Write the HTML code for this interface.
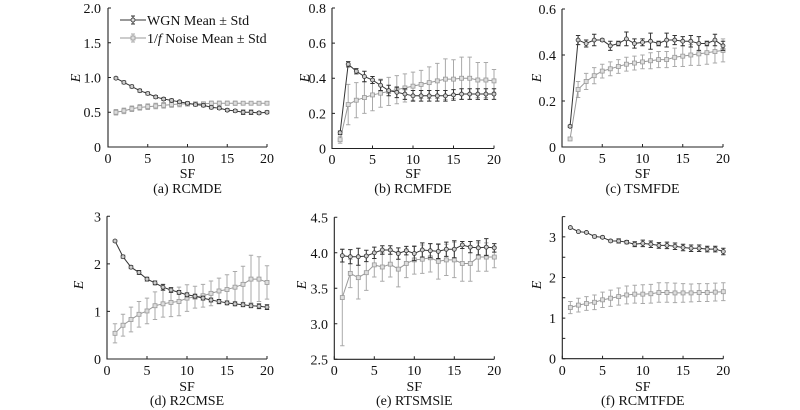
<!DOCTYPE html>
<html><head><meta charset="utf-8">
<style>
html,body{margin:0;padding:0;background:#fff;}
svg{display:block;}
svg text{font-family:"Liberation Serif","DejaVu Serif",serif;font-size:14px;fill:#111;}
</style></head>
<body>
<svg id="s" width="800" height="410" viewBox="0 0 800 410" xmlns="http://www.w3.org/2000/svg" font-family="Liberation Serif, serif">
<rect width="800" height="410" fill="#fff"/>
<g id="plots"></g>

<g text-anchor="end" font-family="Liberation Serif, serif">
<text x="101" y="152">0</text><text x="101" y="117">0.5</text><text x="101" y="82.5">1.0</text><text x="101" y="48">1.5</text><text x="101" y="13">2.0</text>
<text x="326" y="153.5">0</text><text x="326" y="118.3">0.2</text><text x="326" y="83.1">0.4</text><text x="326" y="48">0.6</text><text x="326" y="13">0.8</text>
<text x="556" y="152">0</text><text x="556" y="106">0.2</text><text x="556" y="60">0.4</text><text x="556" y="14">0.6</text>
<text x="101" y="364">0</text><text x="101" y="316.4">1</text><text x="101" y="268.9">2</text><text x="101" y="221.3">3</text>
<text x="328" y="364.3">2.5</text><text x="328" y="328.8">3.0</text><text x="328" y="293.3">3.5</text><text x="328" y="257.8">4.0</text><text x="328" y="222.3">4.5</text>
<text x="556" y="363.7">0</text><text x="556" y="323.1">1</text><text x="556" y="282.5">2</text><text x="556" y="241.9">3</text>
</g>
<g text-anchor="middle" font-family="Liberation Serif, serif">
<text x="108" y="163">0</text><text x="147.75" y="163">5</text><text x="187.5" y="163">10</text><text x="227.25" y="163">15</text><text x="267" y="163">20</text>
<text x="332" y="164">0</text><text x="372.5" y="164">5</text><text x="413" y="164">10</text><text x="453.5" y="164">15</text><text x="494" y="164">20</text>
<text x="562" y="163">0</text><text x="602.25" y="163">5</text><text x="642.5" y="163">10</text><text x="682.75" y="163">15</text><text x="723" y="163">20</text>
<text x="107" y="375">0</text><text x="147" y="375">5</text><text x="187" y="375">10</text><text x="227" y="375">15</text><text x="267" y="375">20</text>
<text x="334.3" y="375">0</text><text x="374.3" y="375">5</text><text x="414.3" y="375">10</text><text x="454.3" y="375">15</text><text x="494.3" y="375">20</text>
<text x="562.3" y="375">0</text><text x="602.5" y="375">5</text><text x="642.8" y="375">10</text><text x="683" y="375">15</text><text x="723.3" y="375">20</text>

<text x="187.5" y="178">SF</text><text x="187.5" y="193">(a) RCMDE</text>
<text x="413" y="178">SF</text><text x="413" y="193">(b) RCMFDE</text>
<text x="642.5" y="178">SF</text><text x="642.5" y="193">(c) TSMFDE</text>
<text x="187" y="391">SF</text><text x="187" y="405">(d) R2CMSE</text>
<text x="414.3" y="391">SF</text><text x="414.3" y="405">(e) RTSMSlE</text>
<text x="642.8" y="391">SF</text><text x="642.8" y="405">(f) RCMTFDE</text>

<text font-style="italic" transform="translate(80,78) rotate(-90)">E</text>
<text font-style="italic" transform="translate(309,78) rotate(-90)">E</text>
<text font-style="italic" transform="translate(541,78) rotate(-90)">E</text>
<text font-style="italic" transform="translate(83,285) rotate(-90)">E</text>
<text font-style="italic" transform="translate(306,285) rotate(-90)">E</text>
<text font-style="italic" transform="translate(541,285) rotate(-90)">E</text>
</g>

<g font-family="Liberation Serif, serif">
<line x1="120" y1="20" x2="146" y2="20" stroke="#333" stroke-width="1"/>
<line x1="133" y1="16" x2="133" y2="24" stroke="#333" stroke-width="1"/>
<line x1="131" y1="16" x2="135" y2="16" stroke="#333"/><line x1="131" y1="24" x2="135" y2="24" stroke="#333"/>
<circle cx="133" cy="20" r="2" fill="#ddd" stroke="#333" stroke-width="0.8"/>
<text x="147" y="25">WGN Mean ± Std</text>
<line x1="120" y1="38" x2="146" y2="38" stroke="#999" stroke-width="1"/>
<line x1="133" y1="34" x2="133" y2="42" stroke="#aaa"/>
<line x1="131" y1="34" x2="135" y2="34" stroke="#aaa"/><line x1="131" y1="42" x2="135" y2="42" stroke="#aaa"/>
<rect x="131" y="36" width="4" height="4" fill="#ddd" stroke="#999" stroke-width="0.8"/>
<text x="147" y="43">1/<tspan font-style="italic">f</tspan> Noise Mean ± Std</text>
</g>
</svg>
<script>
(function(){
var NS="http://www.w3.org/2000/svg";
var g=document.getElementById("plots");
function el(t,a){var e=document.createElementNS(NS,t);for(var k in a)e.setAttribute(k,a[k]);g.appendChild(e);return e;}
var P=[
{x0:108,x1:267,yb:147,yt:8,mn:0,mx:2,tk:[0,0.5,1,1.5,2],
 w:[0.99,0.93,0.87,0.81,0.77,0.72,0.69,0.67,0.65,0.63,0.61,0.60,0.57,0.56,0.53,0.52,0.50,0.50,0.49,0.50],
 we:[0.015,0.02,0.02,0.02,0.02,0.02,0.02,0.02,0.02,0.02,0.02,0.02,0.02,0.02,0.02,0.02,0.03,0.03,0.02,0.02],
 n:[0.50,0.52,0.55,0.57,0.58,0.59,0.60,0.61,0.62,0.62,0.62,0.62,0.63,0.63,0.63,0.63,0.63,0.63,0.63,0.63],
 ne:[0.04,0.04,0.04,0.04,0.04,0.04,0.04,0.04,0.04,0.03,0.03,0.03,0.03,0.03,0.03,0.03,0.02,0.02,0.02,0.02]},
{x0:332,x1:494,yb:148.5,yt:8,mn:0,mx:0.8,tk:[0,0.2,0.4,0.6,0.8],
 w:[0.09,0.48,0.44,0.41,0.39,0.36,0.33,0.32,0.31,0.30,0.30,0.30,0.30,0.30,0.305,0.31,0.31,0.31,0.31,0.31],
 we:[0.01,0.015,0.015,0.03,0.02,0.03,0.03,0.03,0.03,0.03,0.03,0.03,0.03,0.03,0.03,0.03,0.03,0.03,0.03,0.03],
 n:[0.05,0.25,0.275,0.29,0.305,0.315,0.325,0.335,0.345,0.355,0.365,0.375,0.385,0.395,0.395,0.40,0.40,0.39,0.39,0.385],
 ne:[0.02,0.115,0.1,0.09,0.09,0.08,0.08,0.08,0.08,0.08,0.08,0.09,0.1,0.115,0.11,0.12,0.12,0.1,0.1,0.065]},
{x0:562,x1:723,yb:147,yt:9,mn:0,mx:0.6,tk:[0,0.2,0.4,0.6],
 w:[0.09,0.465,0.45,0.465,0.465,0.44,0.45,0.47,0.45,0.455,0.46,0.45,0.465,0.465,0.46,0.46,0.45,0.45,0.465,0.44],
 we:[0.005,0.02,0.015,0.025,0.005,0.02,0.01,0.03,0.02,0.015,0.035,0.01,0.03,0.02,0.02,0.025,0.03,0.01,0.025,0.02],
 n:[0.035,0.25,0.285,0.31,0.33,0.34,0.35,0.36,0.365,0.37,0.375,0.38,0.38,0.39,0.395,0.40,0.405,0.41,0.415,0.42],
 ne:[0.005,0.035,0.035,0.035,0.03,0.03,0.03,0.03,0.03,0.03,0.035,0.035,0.035,0.04,0.045,0.045,0.05,0.05,0.05,0.05]},
{x0:107,x1:267,yb:359,yt:216.3,mn:0,mx:3,tk:[0,1,2,3],
 w:[2.48,2.15,1.93,1.82,1.68,1.6,1.51,1.45,1.40,1.35,1.32,1.28,1.24,1.21,1.18,1.16,1.14,1.12,1.11,1.09],
 we:[0.02,0.03,0.03,0.04,0.04,0.04,0.06,0.05,0.04,0.04,0.04,0.04,0.04,0.04,0.04,0.04,0.04,0.04,0.05,0.05],
 n:[0.54,0.71,0.83,0.94,1.01,1.12,1.16,1.19,1.21,1.28,1.30,1.33,1.38,1.43,1.46,1.51,1.57,1.68,1.68,1.61],
 ne:[0.2,0.23,0.26,0.27,0.27,0.29,0.28,0.3,0.3,0.28,0.23,0.24,0.26,0.27,0.31,0.33,0.38,0.5,0.47,0.35]},
{x0:334.3,x1:494.3,yb:359.3,yt:217.3,mn:2.5,mx:4.5,tk:[2.5,3,3.5,4,4.5],
 w:[3.96,3.945,3.945,3.955,4.0,4.04,4.04,3.99,4.03,3.99,4.04,4.03,4.02,4.05,4.05,4.11,4.08,4.07,4.08,4.07],
 we:[0.09,0.1,0.12,0.08,0.08,0.06,0.06,0.08,0.06,0.1,0.1,0.1,0.1,0.1,0.12,0.05,0.08,0.1,0.12,0.06],
 n:[3.37,3.71,3.65,3.72,3.83,3.80,3.84,3.77,3.85,3.90,3.91,3.93,3.88,3.90,3.90,3.85,3.85,3.94,3.94,3.94],
 ne:[0.68,0.2,0.3,0.25,0.17,0.2,0.18,0.25,0.2,0.2,0.2,0.2,0.25,0.22,0.25,0.25,0.25,0.2,0.2,0.15]},
{x0:562.3,x1:723.3,yb:358.7,yt:216.6,mn:0,mx:3.5,tk:[0,0.5,1,1.5,2,2.5,3,3.5],
 w:[3.23,3.13,3.11,3.01,2.99,2.90,2.90,2.87,2.82,2.84,2.82,2.79,2.79,2.77,2.74,2.72,2.72,2.70,2.70,2.64],
 we:[0.02,0.02,0.02,0.03,0.03,0.03,0.05,0.04,0.06,0.08,0.08,0.07,0.08,0.08,0.08,0.08,0.08,0.07,0.07,0.08],
 n:[1.26,1.32,1.36,1.39,1.45,1.49,1.53,1.57,1.59,1.59,1.60,1.63,1.63,1.62,1.62,1.62,1.63,1.63,1.64,1.65],
 ne:[0.15,0.17,0.17,0.18,0.19,0.2,0.21,0.22,0.22,0.23,0.23,0.24,0.24,0.24,0.23,0.22,0.22,0.22,0.22,0.22]}
];
P.forEach(function(p){
 function X(v){return p.x0+v/20*(p.x1-p.x0);}
 function Y(v){return p.yb-(v-p.mn)/(p.mx-p.mn)*(p.yb-p.yt);}
 el("path",{d:"M"+p.x0+" "+p.yt+"V"+p.yb+"H"+p.x1,fill:"none",stroke:"#222","stroke-width":1.1});
 var t="";
 p.tk.forEach(function(v){t+="M"+p.x0+" "+Y(v).toFixed(2)+"h3";});
 [0,5,10,15,20].forEach(function(v){t+="M"+X(v).toFixed(2)+" "+p.yb+"v-3";});
 el("path",{d:t,fill:"none",stroke:"#222","stroke-width":1});
 function series(m,e,lc,ec,mk,mf,ms){
  var pts=[],eb="";
  for(var i=0;i<20;i++){
   var x=X(i+1),y=Y(m[i]),y1=Y(m[i]+e[i]),y2=Y(m[i]-e[i]);
   pts.push(x.toFixed(2)+","+y.toFixed(2));
   eb+="M"+x.toFixed(2)+" "+y1.toFixed(2)+"V"+y2.toFixed(2)+"M"+(x-2.2).toFixed(2)+" "+y1.toFixed(2)+"h4.4M"+(x-2.2).toFixed(2)+" "+y2.toFixed(2)+"h4.4";
  }
  el("path",{d:eb,fill:"none",stroke:ec,"stroke-width":1});
  el("polyline",{points:pts.join(" "),fill:"none",stroke:lc,"stroke-width":1});
  for(var j=0;j<20;j++){
   var cx=X(j+1),cy=Y(m[j]);
   if(mk=="c")el("circle",{cx:cx,cy:cy,r:2,fill:mf,stroke:ms,"stroke-width":0.8});
   else el("rect",{x:cx-2,y:cy-2,width:4,height:4,fill:mf,stroke:ms,"stroke-width":0.8});
  }
 }
 series(p.n,p.ne,"#999","#aaa","s","#ddd","#999");
 series(p.w,p.we,"#333","#333","c","#ccc","#333");
});
})();
</script>
</body></html>
